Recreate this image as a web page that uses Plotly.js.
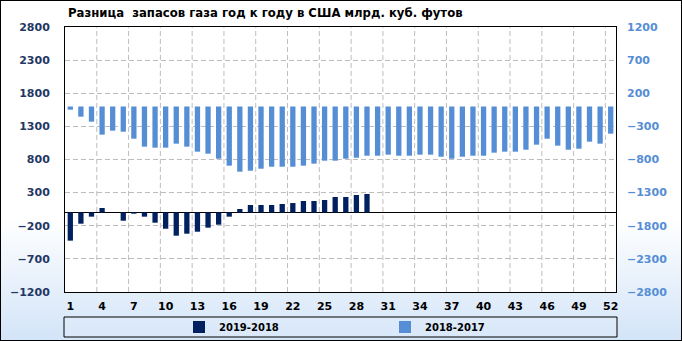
<!DOCTYPE html>
<html>
<head>
<meta charset="utf-8">
<script src="https://cdn.plot.ly/plotly-3.0.1.min.js"></script>
<style>
  html, body { margin: 0; padding: 0; background: #fff; }
  #wrap { position: relative; width: 682px; height: 341px;
          background: linear-gradient(to bottom, #ffffff 0%, #ffffff 64%, #d3e4f8 100%); }
  #chart { width: 682px; height: 341px; }
  #frame { position: absolute; left: 0; top: 0; width: 682px; height: 341px;
           box-sizing: border-box; border: 1px solid #000; pointer-events: none; }
</style>
</head>
<body>
<div id="wrap"><div id="chart"></div><div id="frame"></div></div>
<script>
const weeks = [1,2,3,4,5,6,7,8,9,10,11,12,13,14,15,16,17,18,19,20,21,22,23,24,25,26,
               27,28,29,30,31,32,33,34,35,36,37,38,39,40,41,42,43,44,45,46,47,48,49,50,51,52];

// 2019-2018 (left axis)
const diff2019 = [-425,-169,-63,68,0,-124,-18,-63,-154,-245,-350,-320,-290,-229,-184,-63,53,113,
                  113,113,128,143,174,174,189,234,234,264,279,
                  null,null,null,null,null,null,null,null,null,null,null,null,null,null,null,null,
                  null,null,null,null,null,null,null];

// 2018-2017 (right axis)
const diff2018 = [-48,-154,-229,-425,-365,-380,-486,-606,-621,-621,-561,-606,-682,-712,-788,-893,-984,-969,
                  -939,-909,-909,-909,-893,-863,-818,-818,-788,-773,-743,-743,-727,-743,-743,-727,-727,-758,
                  -788,-758,-743,-743,-697,-682,-682,-652,-576,-486,-591,-652,-637,-531,-561,-410];

const xTickVals = [1,4,7,10,13,16,19,22,25,28,31,34,37,40,43,46,49,52];
const xGridVals = [3.5,6.5,9.5,12.5,15.5,18.5,21.5,24.5,27.5,30.5,33.5,36.5,39.5,42.5,45.5,48.5,51.5];

const seriesNames = ['2019-2018', '2018-2017'];
const colDark = '#002060';
const colLight = '#558ED5';
const FONT = 'DejaVu Sans';
const GRID = '#BDBDBD';
const DASH = '5px,3px';

const traces = [
  { type: 'bar', x: weeks, y: diff2019, name: seriesNames[0], marker: { color: colDark },
    width: 0.5, yaxis: 'y', hoverinfo: 'skip' },
  { type: 'bar', x: weeks, y: diff2018, name: seriesNames[1], marker: { color: colLight },
    width: 0.5, yaxis: 'y2', hoverinfo: 'skip' }
];

const shapes = [
  { type: 'rect', xref: 'paper', yref: 'paper',
    x0: (64 - 65) / 551, x1: (617 - 65) / 551,
    y0: (292 - 337) / 265, y1: (292 - 317) / 265,
    line: { color: '#000', width: 1 }, fillcolor: 'rgba(221,235,250,0.6)', layer: 'below' }
];
xGridVals.forEach(v => shapes.push({
  type: 'line', xref: 'x', yref: 'paper', x0: v, x1: v, y0: 0, y1: 1,
  line: { color: GRID, width: 1, dash: DASH }, layer: 'below'
}));

const layout = {
  width: 682, height: 341,
  margin: { l: 65, r: 66, t: 27, b: 49, pad: 0, autoexpand: false },
  paper_bgcolor: 'rgba(0,0,0,0)',
  plot_bgcolor: '#ffffff',
  font: { family: FONT, size: 11, color: '#000', weight: 'bold' },
  barmode: 'overlay',
  showlegend: true,
  title: {
    text: 'Разница\u00a0 запасов газа год к году в США млрд. куб. футов',
    font: { family: FONT, size: 11.7, color: '#000', weight: 'bold' },
    xref: 'container', yref: 'container', x: 68/682, xanchor: 'left',
    y: 1 - 13/341, yanchor: 'middle'
  },
  xaxis: {
    range: [0.5, 52.5],
    tickmode: 'array', tickvals: xTickVals, ticktext: xTickVals.map(String),
    showgrid: false, zeroline: false,
    showline: true, linecolor: '#000', linewidth: 1, mirror: true,
    ticks: '', ticklabelstandoff: 4,
    tickfont: { family: FONT, size: 11, color: '#000', weight: 'bold' }
  },
  yaxis: {
    range: [-1200, 2800], tick0: 300, dtick: 500,
    showgrid: true, gridcolor: GRID, griddash: DASH, gridwidth: 1,
    zeroline: true, zerolinecolor: '#000', zerolinewidth: 1.5,
    showline: true, linecolor: '#000', linewidth: 1, mirror: true,
    ticks: '', ticklabelstandoff: 12,
    tickfont: { family: FONT, size: 11, color: '#1F3864', weight: 'bold' }
  },
  yaxis2: {
    range: [-2800, 1200], tick0: 200, dtick: 500,
    overlaying: 'y', side: 'right',
    showgrid: false, zeroline: false, showline: false,
    ticks: '', ticklabelstandoff: 10,
    tickfont: { family: FONT, size: 11, color: '#558ED5', weight: 'bold' }
  },
  legend: {
    orientation: 'h', xref: 'container', x: 179 / 682, xanchor: 'left',
    yref: 'container', y: 1 - 327 / 341, yanchor: 'middle',
    bgcolor: 'rgba(0,0,0,0)', borderwidth: 0,
    entrywidth: 161, entrywidthmode: 'pixels',
    font: { family: FONT, size: 10, color: '#000', weight: 'bold' },
    traceorder: 'normal'
  },
  shapes: shapes
};

Plotly.newPlot('chart', traces, layout, { staticPlot: true, displayModeBar: false });
</script>
</body>
</html>
